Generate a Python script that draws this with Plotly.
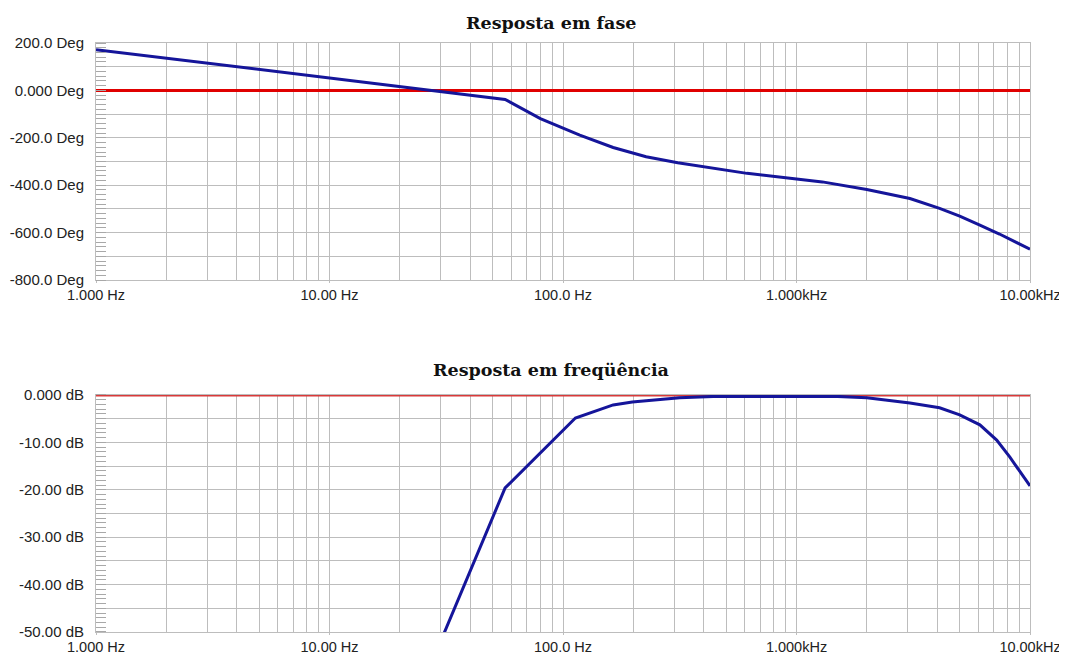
import plotly.graph_objects as go

# ---- data ----
freq_phase = [1, 56.5, 80, 97, 118, 164, 227, 310, 614, 1000, 1290, 2000, 3060, 4100, 5000, 6100, 7400, 10000]
phase_deg = [172, -38, -119, -154, -189, -241, -280, -305, -350, -374, -386, -418, -456, -498, -530, -568, -606, -670]

freq_mag = [28.2, 56.5, 113, 164, 198, 316, 440, 1000, 1500, 2000, 3060, 4100, 5000, 6100, 7200, 8200, 10000]
mag_db = [-55, -19.6, -4.85, -2.1, -1.5, -0.6, -0.3, -0.2, -0.3, -0.6, -1.7, -2.7, -4.2, -6.3, -9.5, -13.1, -19.2]

ref_freq = [1, 10000]
ref_phase = [0, 0]
ref_db = [0, 0]

x_tickvals = [1, 10, 100, 1000, 10000]
x_ticktext = ["1.000 Hz", "10.00 Hz", "100.0 Hz", "1.000kHz", "10.00kHz"]
x_minor = [k * 10 ** d for d in range(4) for k in range(2, 10)]

phase_tickvals = [200, 100, 0, -100, -200, -300, -400, -500, -600, -700, -800]
phase_ticktext = ["200.0 Deg", "", "0.000 Deg", "", "-200.0 Deg", "", "-400.0 Deg", "", "-600.0 Deg", "", "-800.0 Deg"]

db_tickvals = [0, -5, -10, -15, -20, -25, -30, -35, -40, -45, -50]
db_ticktext = ["0.000 dB", "", "-10.00 dB", "", "-20.00 dB", "", "-30.00 dB", "", "-40.00 dB", "", "-50.00 dB"]

titles = ["Resposta em fase", "Resposta em freqüência"]

# ---- styles ----
BLUE = "#15159a"
GRID = "#bdbdbd"
TICKFONT = dict(family="Liberation Sans, Arial, sans-serif", size=15, color="#222222")
XTICKFONT = dict(family="Liberation Sans, Arial, sans-serif", size=14.5, color="#222222")
TITLEFONT = dict(family="DejaVu Serif, serif", size=17.5, color="#111111")

fig = go.Figure()

fig.add_trace(go.Scatter(x=ref_freq, y=ref_phase, mode="lines", line=dict(color="#e00000", width=3),
                         xaxis="x", yaxis="y", hoverinfo="skip"))
fig.add_trace(go.Scatter(x=freq_phase, y=phase_deg, mode="lines", line=dict(color=BLUE, width=3),
                         xaxis="x", yaxis="y"))
fig.add_trace(go.Scatter(x=ref_freq, y=ref_db, mode="lines", line=dict(color="#d83a3a", width=3),
                         xaxis="x2", yaxis="y2", hoverinfo="skip"))
fig.add_trace(go.Scatter(x=freq_mag, y=mag_db, mode="lines", line=dict(color=BLUE, width=3),
                         xaxis="x2", yaxis="y2"))


def xax(anchor):
    return dict(
        type="log", range=[0, 4], anchor=anchor, automargin=False,
        tickmode="array", tickvals=x_tickvals, ticktext=x_ticktext,
        ticks="outside", ticklen=2, tickcolor=GRID,
        showgrid=True, gridcolor=GRID, gridwidth=1,
        minor=dict(tickmode="array", tickvals=x_minor, showgrid=True, gridcolor=GRID, gridwidth=1, ticks=""),
        showline=True, linecolor=GRID, linewidth=1, mirror=True,
        zeroline=False, tickfont=XTICKFONT,
    )


def yax(anchor, domain, rng, tv, tt, minor_dtick):
    return dict(
        domain=domain, range=rng, anchor=anchor, automargin=False,
        tickmode="array", tickvals=tv, ticktext=tt,
        ticks="", showgrid=True, gridcolor=GRID, gridwidth=1,
        minor=dict(dtick=minor_dtick, ticks="inside", ticklen=10, tickcolor="#a8a8a8", tickwidth=1, showgrid=False),
        showline=True, linecolor=GRID, linewidth=1, mirror=True,
        zeroline=False, tickfont=TICKFONT, ticklabelstandoff=8,
    )


fig.update_layout(
    width=1059, height=649,
    margin=dict(l=88, r=37, t=35, b=25, autoexpand=False),
    paper_bgcolor="white", plot_bgcolor="white",
    showlegend=False,
    xaxis=xax("y"),
    yaxis=yax("x", [0.5976, 1.0], [-800, 200], phase_tickvals, phase_ticktext, 20),
    xaxis2=xax("y2"),
    yaxis2=yax("x2", [0.0, 0.4024], [-50, 0], db_tickvals, db_ticktext, 1),
    annotations=[
        dict(text="<b>%s</b>" % titles[0], x=0.487, y=1.034, xref="paper", yref="paper",
             xanchor="center", yanchor="middle", showarrow=False, font=TITLEFONT),
        dict(text="<b>%s</b>" % titles[1], x=0.487, y=0.4448, xref="paper", yref="paper",
             xanchor="center", yanchor="middle", showarrow=False, font=TITLEFONT),
    ],
)

fig.write_html("out.html", config={"displayModeBar": False})
